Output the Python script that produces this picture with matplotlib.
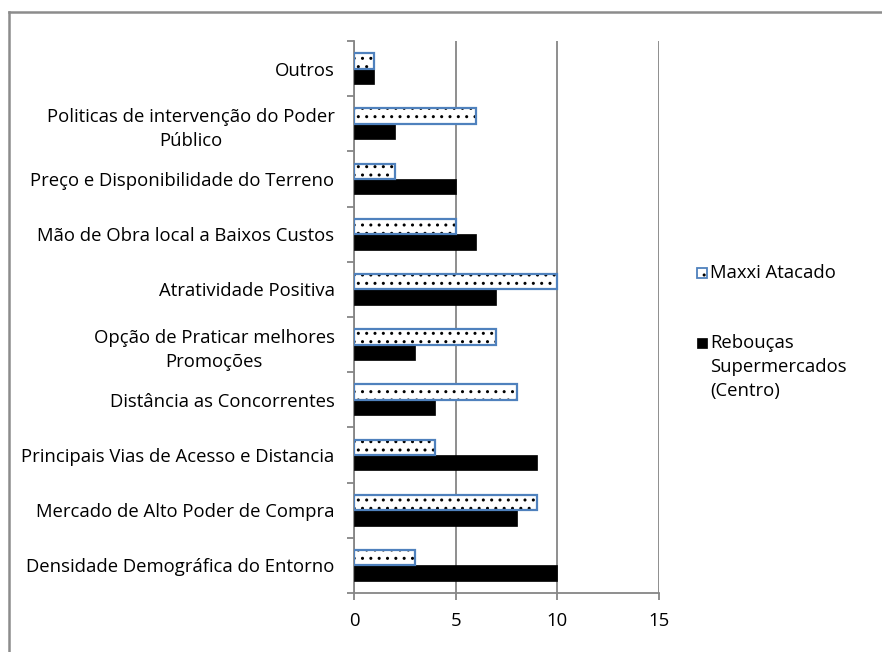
import matplotlib
matplotlib.use("Agg")
import matplotlib.pyplot as plt
import numpy as np
from matplotlib.patches import Rectangle
from matplotlib.lines import Line2D

categories = [
    "Densidade Demográfica do Entorno",
    "Mercado de Alto Poder de Compra",
    "Principais Vias de Acesso e Distancia",
    "Distância as Concorrentes",
    "Opção de Praticar melhores\nPromoções",
    "Atratividade Positiva",
    "Mão de Obra local a Baixos Custos",
    "Preço e Disponibilidade do Terreno",
    "Politicas de intervenção do Poder\nPúblico",
    "Outros",
]
maxxi = [3, 9, 4, 8, 7, 10, 5, 2, 6, 1]
reboucas = [10, 8, 9, 4, 3, 7, 6, 5, 2, 1]
series_names = ["Maxxi Atacado", "Rebouças\nSupermercados\n(Centro)"]
x_ticks = [0, 5, 10, 15]

plt.rcParams["font.family"] = ["Open Sans", "DejaVu Sans"]
plt.rcParams["hatch.linewidth"] = 1.0

FS = 13.3
W, H = 882, 652
fig = plt.figure(figsize=(W / 100, H / 100), dpi=100)
ax = fig.add_axes([354 / W, 1 - 593 / H, (659 - 354) / W, (593 - 41) / H])

grey = "#868686"
blue = "#4F81BD"
y = np.arange(len(categories))
h = 0.28

# dotted fill for Maxxi (hatch takes the edge colour), then the blue outline on top
ax.barh(y + h / 2, maxxi, height=h, color="white", edgecolor="black",
        linewidth=0, hatch="..", zorder=3)
ax.barh(y + h / 2, maxxi, height=h, color="none", edgecolor=blue,
        linewidth=1.6, zorder=4)
ax.barh(y - h / 2, reboucas, height=h, color="black", edgecolor="black",
        linewidth=0.5, zorder=3)

ax.set_xlim(0, 15)
ax.set_ylim(-0.5, len(categories) - 0.5)
ax.set_xticks(x_ticks)
ax.set_xticklabels([str(t) for t in x_ticks], fontsize=FS)
ax.tick_params(axis="x", length=5, width=1.3, color=grey, pad=9)

ax.set_yticks(y)
ax.set_yticklabels(categories, fontsize=FS)
for lab in ax.get_yticklabels():
    lab.set_multialignment("center")
    lab.set_linespacing(1.45)
ax.tick_params(axis="y", which="major", length=0, pad=14)
ax.set_yticks(np.arange(-0.5, len(categories)), minor=True)
ax.tick_params(axis="y", which="minor", length=5, width=1.3, color=grey)

ax.grid(axis="x", color=grey, linewidth=1.3, zorder=0)
for side in ("top", "right"):
    ax.spines[side].set_visible(False)
for side in ("left", "bottom"):
    ax.spines[side].set_color(grey)
    ax.spines[side].set_linewidth(1.3)


def fx(px):
    return px / W


def fy(py):
    return 1 - py / H


# legend keys and labels
ks = 10
fig.add_artist(Rectangle((fx(697), fy(278)), ks / W, ks / H, facecolor="white",
                         edgecolor="black", linewidth=0, hatch="..",
                         transform=fig.transFigure))
fig.add_artist(Rectangle((fx(697), fy(278)), ks / W, ks / H, facecolor="none",
                         edgecolor=blue, linewidth=1.3,
                         transform=fig.transFigure))
fig.add_artist(Rectangle((fx(697), fy(348)), ks / W, ks / H, facecolor="black",
                         edgecolor="black", linewidth=0.5,
                         transform=fig.transFigure))
fig.text(fx(710), fy(273), series_names[0], fontsize=FS, va="center", ha="left")
fig.text(fx(710), fy(334), series_names[1], fontsize=FS, va="top", ha="left",
         linespacing=1.42)

# chart area border (left and top edges)
fig.add_artist(Line2D([9 / W, 9 / W], [0, fy(12)], color="#8c8c8c",
                      linewidth=1.8, transform=fig.transFigure))
fig.add_artist(Line2D([9 / W, 1], [fy(12), fy(12)], color="#8c8c8c",
                      linewidth=1.8, transform=fig.transFigure))

fig.savefig("out.png", dpi=100)
